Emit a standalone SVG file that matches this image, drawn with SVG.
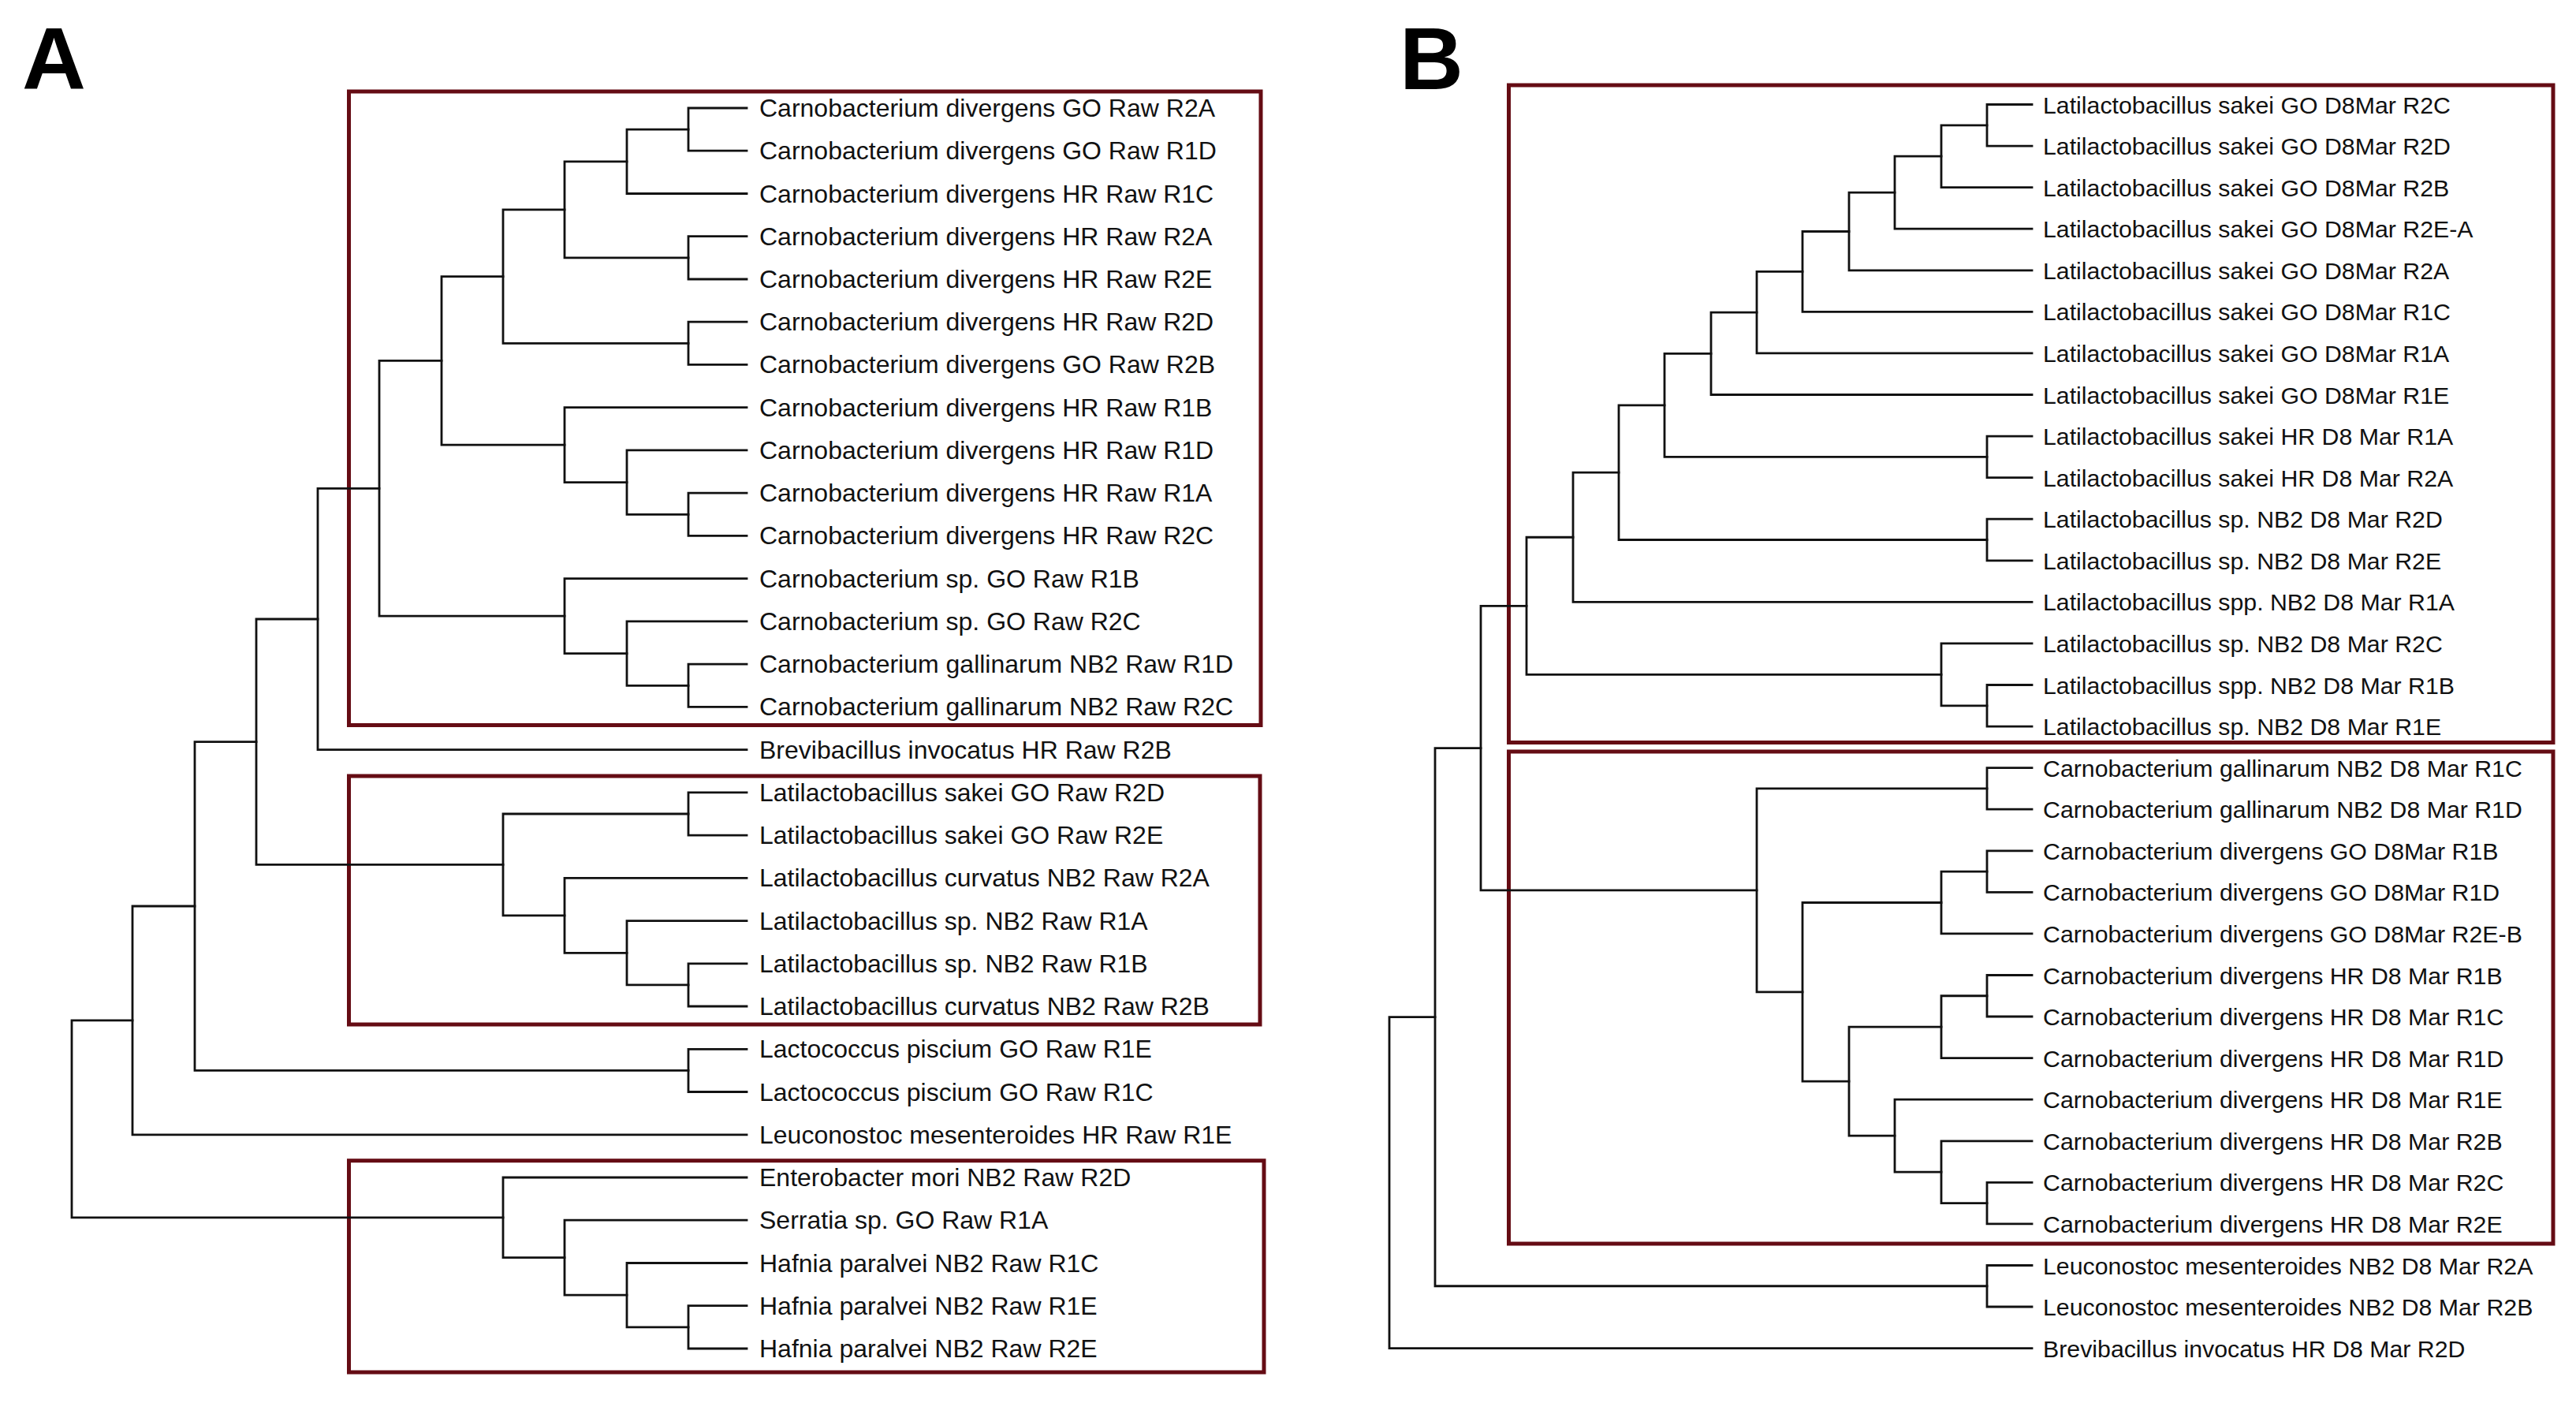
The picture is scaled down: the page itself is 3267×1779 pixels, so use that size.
<svg xmlns="http://www.w3.org/2000/svg" width="3267" height="1779" viewBox="0 0 3267 1779">
<style>
.bg{fill:#ffffff}
.panel{font-family:"Liberation Sans",Arial,sans-serif;font-weight:bold;font-size:112px;fill:#000}
.la{font-family:"Liberation Sans",Arial,sans-serif;font-size:32px;fill:#111}
.lb{font-family:"Liberation Sans",Arial,sans-serif;font-size:30.3px;fill:#111}
.edge{fill:none;stroke:#111;stroke-width:2.8;stroke-linecap:square}
.box{fill:none;stroke:#650c14;stroke-width:5}
</style>
<rect class="bg" x="0" y="0" width="3267" height="1779"/>
<g id="panel-labels">
<text class="panel" x="28" y="113">A</text>
<text class="panel" x="1775" y="113">B</text>
</g>
<g id="clusters">
<rect id="boxA1" class="box" x="442.5" y="116" width="1156.5" height="803.5"/>
<rect id="boxA2" class="box" x="442.5" y="984" width="1155.5" height="315"/>
<rect id="boxA3" class="box" x="442.5" y="1471.7" width="1160.5" height="268.3"/>
<rect id="boxB1" class="box" x="1913.5" y="108" width="1324.5" height="833.5"/>
<rect id="boxB2" class="box" x="1913.5" y="953" width="1324.5" height="624"/>
</g>
<g id="connectors">
<path class="edge" d="M947 137H873V191.2H947"/>
<path class="edge" d="M873 164.1H795V245.5H947"/>
<path class="edge" d="M947 299.7H873V354H947"/>
<path class="edge" d="M795 204.8H716V326.9H873"/>
<path class="edge" d="M947 408.2H873V462.4H947"/>
<path class="edge" d="M716 265.8H638V435.3H873"/>
<path class="edge" d="M947 625.2H873V679.4H947"/>
<path class="edge" d="M947 570.9H795V652.3H873"/>
<path class="edge" d="M947 516.7H716V611.6H795"/>
<path class="edge" d="M638 350.6H560V564.2H716"/>
<path class="edge" d="M947 842.1H873V896.4H947"/>
<path class="edge" d="M947 787.9H795V869.3H873"/>
<path class="edge" d="M947 733.6H716V828.6H795"/>
<path class="edge" d="M560 457.4H481V781.1H716"/>
<path class="edge" d="M481 619.3H403V950.6H947"/>
<path class="edge" d="M947 1004.8H873V1059.1H947"/>
<path class="edge" d="M947 1221.8H873V1276H947"/>
<path class="edge" d="M947 1167.6H795V1248.9H873"/>
<path class="edge" d="M947 1113.3H716V1208.3H795"/>
<path class="edge" d="M873 1032H638V1160.8H716"/>
<path class="edge" d="M403 785H325V1096.4H638"/>
<path class="edge" d="M947 1330.3H873V1384.5H947"/>
<path class="edge" d="M325 940.7H247V1357.4H873"/>
<path class="edge" d="M247 1149H168V1438.8H947"/>
<path class="edge" d="M947 1655.7H873V1710H947"/>
<path class="edge" d="M947 1601.5H795V1682.9H873"/>
<path class="edge" d="M947 1547.2H716V1642.2H795"/>
<path class="edge" d="M947 1493H638V1594.7H716"/>
<path class="edge" d="M168 1293.9H91V1543.9H638"/>

<path class="edge" d="M2577 132.5H2520V185.1H2577"/>
<path class="edge" d="M2520 158.8H2462V237.6H2577"/>
<path class="edge" d="M2462 198.2H2403V290.2H2577"/>
<path class="edge" d="M2403 244.2H2345V342.8H2577"/>
<path class="edge" d="M2345 293.5H2286V395.4H2577"/>
<path class="edge" d="M2286 344.45H2228V447.9H2577"/>
<path class="edge" d="M2228 396.2H2170V500.5H2577"/>
<path class="edge" d="M2577 553.1H2520V605.6H2577"/>
<path class="edge" d="M2170 448.35H2111V579.35H2520"/>
<path class="edge" d="M2577 658.2H2520V710.8H2577"/>
<path class="edge" d="M2111 513.85H2053V684.5H2520"/>
<path class="edge" d="M2053 599.2H1995V763.3H2577"/>
<path class="edge" d="M2577 868.5H2520V921.1H2577"/>
<path class="edge" d="M2577 815.9H2462V894.8H2520"/>
<path class="edge" d="M1995 681.25H1936V855.35H2462"/>
<path class="edge" d="M2577 973.6H2520V1026.2H2577"/>
<path class="edge" d="M2577 1078.8H2520V1131.3H2577"/>
<path class="edge" d="M2520 1105.05H2462V1183.9H2577"/>
<path class="edge" d="M2577 1236.5H2520V1289H2577"/>
<path class="edge" d="M2520 1262.75H2462V1341.6H2577"/>
<path class="edge" d="M2577 1499.3H2520V1551.9H2577"/>
<path class="edge" d="M2577 1446.8H2462V1525.6H2520"/>
<path class="edge" d="M2577 1394.2H2403V1486.2H2462"/>
<path class="edge" d="M2462 1302.2H2345V1440.2H2403"/>
<path class="edge" d="M2462 1144.5H2286V1371.2H2345"/>
<path class="edge" d="M2520 999.9H2228V1257.85H2286"/>
<path class="edge" d="M1936 768.3H1878V1128.9H2228"/>
<path class="edge" d="M2577 1604.5H2520V1657H2577"/>
<path class="edge" d="M1878 948.6H1820V1630.75H2520"/>
<path class="edge" d="M1820 1289.7H1762V1709.6H2577"/>
</g>
<g id="A-leaves">
<g id="a01"><text class="la" x="963" y="148">Carnobacterium divergens GO Raw R2A</text></g>
<g id="a02"><text class="la" x="963" y="202.2">Carnobacterium divergens GO Raw R1D</text></g>
<g id="a03"><text class="la" x="963" y="256.5">Carnobacterium divergens HR Raw R1C</text></g>
<g id="a04"><text class="la" x="963" y="310.7">Carnobacterium divergens HR Raw R2A</text></g>
<g id="a05"><text class="la" x="963" y="365">Carnobacterium divergens HR Raw R2E</text></g>
<g id="a06"><text class="la" x="963" y="419.2">Carnobacterium divergens HR Raw R2D</text></g>
<g id="a07"><text class="la" x="963" y="473.4">Carnobacterium divergens GO Raw R2B</text></g>
<g id="a08"><text class="la" x="963" y="527.7">Carnobacterium divergens HR Raw R1B</text></g>
<g id="a09"><text class="la" x="963" y="581.9">Carnobacterium divergens HR Raw R1D</text></g>
<g id="a10"><text class="la" x="963" y="636.2">Carnobacterium divergens HR Raw R1A</text></g>
<g id="a11"><text class="la" x="963" y="690.4">Carnobacterium divergens HR Raw R2C</text></g>
<g id="a12"><text class="la" x="963" y="744.6">Carnobacterium sp. GO Raw R1B</text></g>
<g id="a13"><text class="la" x="963" y="798.9">Carnobacterium sp. GO Raw R2C</text></g>
<g id="a14"><text class="la" x="963" y="853.1">Carnobacterium gallinarum NB2 Raw R1D</text></g>
<g id="a15"><text class="la" x="963" y="907.4">Carnobacterium gallinarum NB2 Raw R2C</text></g>
<g id="a16"><text class="la" x="963" y="961.6">Brevibacillus invocatus HR Raw R2B</text></g>
<g id="a17"><text class="la" x="963" y="1015.8">Latilactobacillus sakei GO Raw R2D</text></g>
<g id="a18"><text class="la" x="963" y="1070.1">Latilactobacillus sakei GO Raw R2E</text></g>
<g id="a19"><text class="la" x="963" y="1124.3">Latilactobacillus curvatus NB2 Raw R2A</text></g>
<g id="a20"><text class="la" x="963" y="1178.6">Latilactobacillus sp. NB2 Raw R1A</text></g>
<g id="a21"><text class="la" x="963" y="1232.8">Latilactobacillus sp. NB2 Raw R1B</text></g>
<g id="a22"><text class="la" x="963" y="1287">Latilactobacillus curvatus NB2 Raw R2B</text></g>
<g id="a23"><text class="la" x="963" y="1341.3">Lactococcus piscium GO Raw R1E</text></g>
<g id="a24"><text class="la" x="963" y="1395.5">Lactococcus piscium GO Raw R1C</text></g>
<g id="a25"><text class="la" x="963" y="1449.8">Leuconostoc mesenteroides HR Raw R1E</text></g>
<g id="a26"><text class="la" x="963" y="1504">Enterobacter mori NB2 Raw R2D</text></g>
<g id="a27"><text class="la" x="963" y="1558.2">Serratia sp. GO Raw R1A</text></g>
<g id="a28"><text class="la" x="963" y="1612.5">Hafnia paralvei NB2 Raw R1C</text></g>
<g id="a29"><text class="la" x="963" y="1666.7">Hafnia paralvei NB2 Raw R1E</text></g>
<g id="a30"><text class="la" x="963" y="1721">Hafnia paralvei NB2 Raw R2E</text></g>
</g>
<g id="B-leaves">
<g id="b01"><text class="lb" x="2591" y="143.5">Latilactobacillus sakei GO D8Mar R2C</text></g>
<g id="b02"><text class="lb" x="2591" y="196.1">Latilactobacillus sakei GO D8Mar R2D</text></g>
<g id="b03"><text class="lb" x="2591" y="248.6">Latilactobacillus sakei GO D8Mar R2B</text></g>
<g id="b04"><text class="lb" x="2591" y="301.2">Latilactobacillus sakei GO D8Mar R2E-A</text></g>
<g id="b05"><text class="lb" x="2591" y="353.8">Latilactobacillus sakei GO D8Mar R2A</text></g>
<g id="b06"><text class="lb" x="2591" y="406.4">Latilactobacillus sakei GO D8Mar R1C</text></g>
<g id="b07"><text class="lb" x="2591" y="458.9">Latilactobacillus sakei GO D8Mar R1A</text></g>
<g id="b08"><text class="lb" x="2591" y="511.5">Latilactobacillus sakei GO D8Mar R1E</text></g>
<g id="b09"><text class="lb" x="2591" y="564.1">Latilactobacillus sakei HR D8 Mar R1A</text></g>
<g id="b10"><text class="lb" x="2591" y="616.6">Latilactobacillus sakei HR D8 Mar R2A</text></g>
<g id="b11"><text class="lb" x="2591" y="669.2">Latilactobacillus sp. NB2 D8 Mar R2D</text></g>
<g id="b12"><text class="lb" x="2591" y="721.8">Latilactobacillus sp. NB2 D8 Mar R2E</text></g>
<g id="b13"><text class="lb" x="2591" y="774.3">Latilactobacillus spp. NB2 D8 Mar R1A</text></g>
<g id="b14"><text class="lb" x="2591" y="826.9">Latilactobacillus sp. NB2 D8 Mar R2C</text></g>
<g id="b15"><text class="lb" x="2591" y="879.5">Latilactobacillus spp. NB2 D8 Mar R1B</text></g>
<g id="b16"><text class="lb" x="2591" y="932.1">Latilactobacillus sp. NB2 D8 Mar R1E</text></g>
<g id="b17"><text class="lb" x="2591" y="984.6">Carnobacterium gallinarum NB2 D8 Mar R1C</text></g>
<g id="b18"><text class="lb" x="2591" y="1037.2">Carnobacterium gallinarum NB2 D8 Mar R1D</text></g>
<g id="b19"><text class="lb" x="2591" y="1089.8">Carnobacterium divergens GO D8Mar R1B</text></g>
<g id="b20"><text class="lb" x="2591" y="1142.3">Carnobacterium divergens GO D8Mar R1D</text></g>
<g id="b21"><text class="lb" x="2591" y="1194.9">Carnobacterium divergens GO D8Mar R2E-B</text></g>
<g id="b22"><text class="lb" x="2591" y="1247.5">Carnobacterium divergens HR D8 Mar R1B</text></g>
<g id="b23"><text class="lb" x="2591" y="1300">Carnobacterium divergens HR D8 Mar R1C</text></g>
<g id="b24"><text class="lb" x="2591" y="1352.6">Carnobacterium divergens HR D8 Mar R1D</text></g>
<g id="b25"><text class="lb" x="2591" y="1405.2">Carnobacterium divergens HR D8 Mar R1E</text></g>
<g id="b26"><text class="lb" x="2591" y="1457.8">Carnobacterium divergens HR D8 Mar R2B</text></g>
<g id="b27"><text class="lb" x="2591" y="1510.3">Carnobacterium divergens HR D8 Mar R2C</text></g>
<g id="b28"><text class="lb" x="2591" y="1562.9">Carnobacterium divergens HR D8 Mar R2E</text></g>
<g id="b29"><text class="lb" x="2591" y="1615.5">Leuconostoc mesenteroides NB2 D8 Mar R2A</text></g>
<g id="b30"><text class="lb" x="2591" y="1668">Leuconostoc mesenteroides NB2 D8 Mar R2B</text></g>
<g id="b31"><text class="lb" x="2591" y="1720.6">Brevibacillus invocatus HR D8 Mar R2D</text></g>
</g>
</svg>
